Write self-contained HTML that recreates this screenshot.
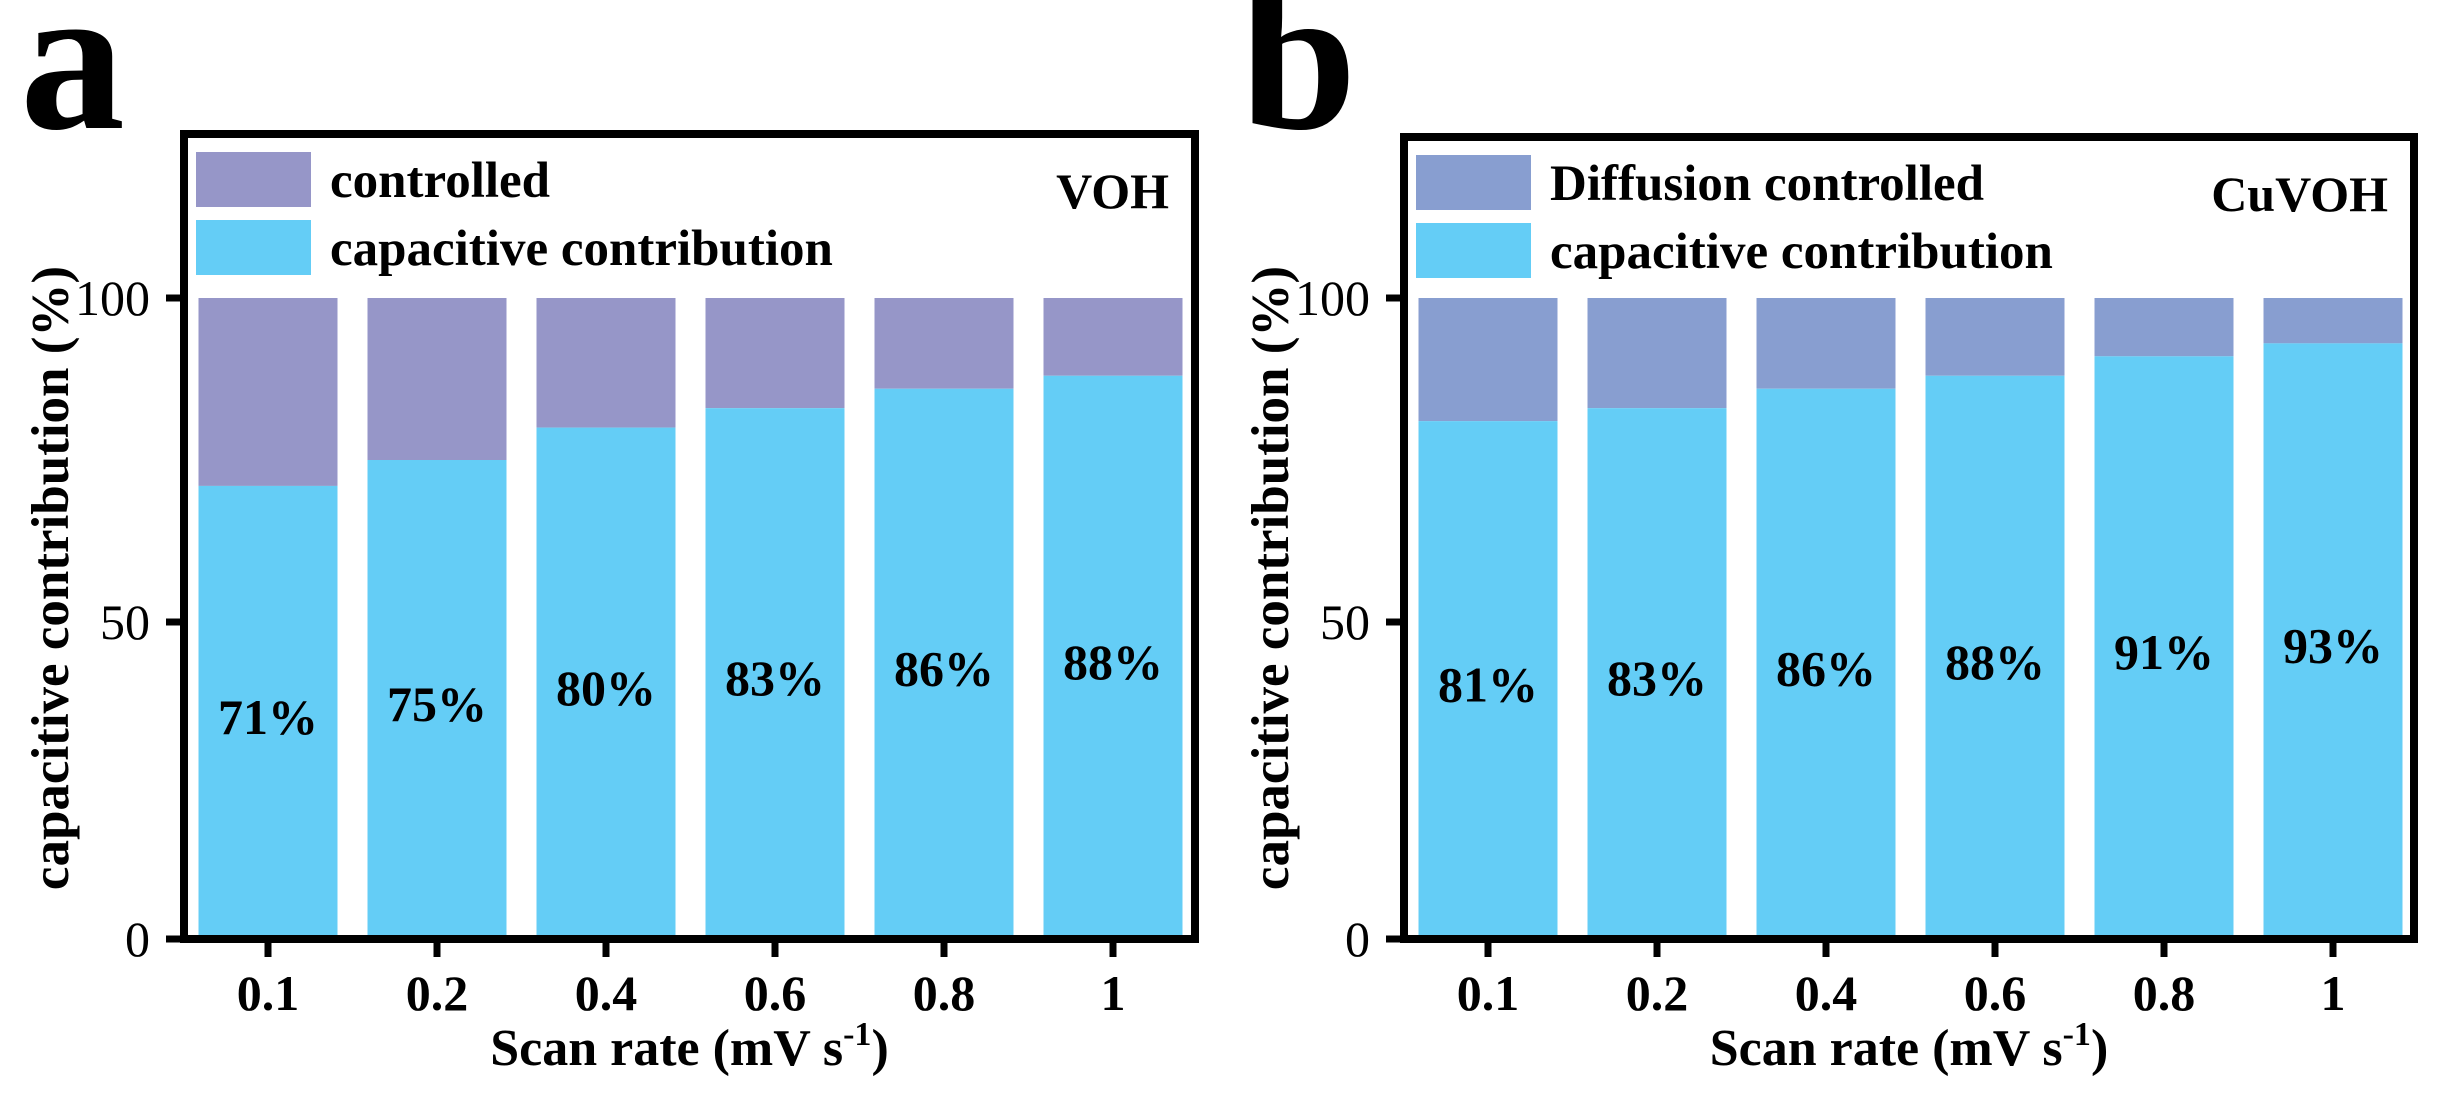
<!DOCTYPE html>
<html><head><meta charset="utf-8"><style>
html,body{margin:0;padding:0;background:#fff;}
svg{display:block;font-family:"Liberation Serif",serif;font-weight:bold;}
</style></head><body>
<svg id="fig" width="2437" height="1106" viewBox="0 0 2437 1106" xmlns="http://www.w3.org/2000/svg"></svg>
<script>
const categories = ["0.1","0.2","0.4","0.6","0.8","1"];
const capA = [71,75,80,83,86,88];
const capB = [81,83,86,88,91,93];
const yTicks = [0,50,100];
const NS="http://www.w3.org/2000/svg";
const svg=document.getElementById('fig');
function mk(tag,attrs,parent,text){const e=document.createElementNS(NS,tag);for(const k in attrs)e.setAttribute(k,attrs[k]);if(text!==undefined)e.textContent=text;(parent||svg).appendChild(e);return e;}

function panel(cfg){
  const g=mk('g',{});
  
  
  const x0=cfg.left, xr=cfg.right, top=cfg.top;
  const y=v=>946-v*6.48;
  const x=i=>cfg.firstCenter+i*169;
  cfg.values.forEach((v,i)=>{
    const cx=x(i);
    const r1=mk('rect',{x:cx-69.5,y:y(100),width:139,height:y(v)-y(100),fill:cfg.ctrlColor},g);
    
    
    const r2=mk('rect',{x:cx-69.5,y:y(v),width:139,height:939-y(v),fill:'#64cdf6'},g);
    
    
    const t=mk('text',{x:cx,y:y(v/2)+18,'text-anchor':'middle','font-size':50},g,v+'%');
    
    
    const tk=mk('line',{x1:cx,x2:cx,y1:939,y2:957,stroke:'#000','stroke-width':7},g);
    
    
    const tl=mk('text',{x:cx,y:1010,'text-anchor':'middle','font-size':50},g,categories[i]);
    
    
  });
  const fr=mk('rect',{x:x0+4,y:top+4,width:xr-x0-8,height:939-top-4,fill:'none',stroke:'#000','stroke-width':8},g);
  
  
  yTicks.forEach(v=>{
    const yy=Math.min(y(v),939);
    const l=mk('line',{x1:x0-14,x2:x0+4,y1:yy,y2:yy,stroke:'#000','stroke-width':7},g);
    
    
    const t=mk('text',{x:x0-30,y:yy+17,'text-anchor':'end','font-size':50,'font-weight':'normal'},g,String(v));
    
    
  });
  const lp1=mk('rect',{x:x0+16,y:top+22,width:115,height:55,fill:cfg.ctrlColor},g);
  
  
  const lt1=mk('text',{x:x0+150,y:top+67,'font-size':51},g,cfg.ctrlLabel);
  
  
  const lp2=mk('rect',{x:x0+16,y:top+90,width:115,height:55,fill:'#64cdf6'},g);
  
  
  const lt2=mk('text',{x:x0+150,y:top+135,'font-size':51},g,'capacitive contribution');
  
  
  const sl=mk('text',{x:xr-30,y:top+78,'text-anchor':'end','font-size':50},g,cfg.sample);
  
  
  const yt=mk('text',{x:0,y:0,'text-anchor':'middle','font-size':53,transform:'translate('+(cfg.left-112)+',578) rotate(-90)'},g,'capacitive contribution (%)');
  
  
  const xt=mk('text',{x:(x0+xr)/2,y:1065,'text-anchor':'middle','font-size':52},g);
  
  
  mk('tspan',{},xt,'Scan rate (mV s');
  mk('tspan',{'font-size':34,dy:-20},xt,'-1');
  mk('tspan',{dy:20},xt,')');
  const pl=mk('text',{x:cfg.letterX,y:128,'font-size':210},g,cfg.letter);
  
  
}
panel({name:'panel-a-voh',left:180,right:1199,top:130,firstCenter:268,values:capA,ctrlColor:'#9696c8',ctrlLabel:'controlled',sample:'VOH',letter:'a',letterX:20});
panel({name:'panel-b-cuvoh',left:1400,right:2418,top:133,firstCenter:1488,values:capB,ctrlColor:'#889ed0',ctrlLabel:'Diffusion controlled',sample:'CuVOH',letter:'b',letterX:1240});
</script>
</body></html>
